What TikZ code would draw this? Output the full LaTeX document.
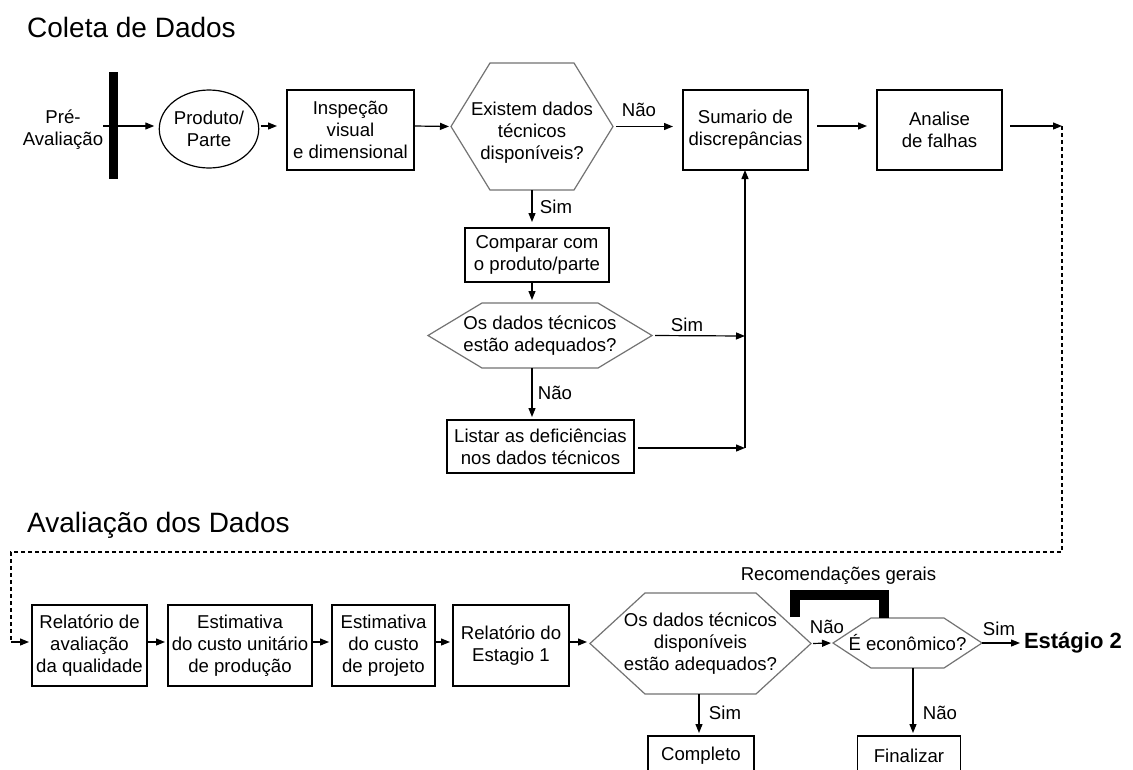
\documentclass[tikz,border=0pt]{standalone}
\usepackage{fontspec}
\setmainfont{Liberation Sans}
\usetikzlibrary{arrows.meta,shapes.geometric}
\tikzset{
  base/.style={font=\fontsize{18.6}{22}\selectfont, align=center, inner sep=0pt, outer sep=0pt},
  box/.style={base, draw, line width=1.2pt},
  hexline/.style={draw=black!55, line width=1.2pt, line join=miter},
  arr/.style={line width=1.2pt, -{Triangle[length=9pt,width=7pt]}},
  dsh/.style={line width=1.1pt, dash pattern=on 4pt off 3pt},
  lbl/.style={base},
  title/.style={font=\fontsize{28}{32}\selectfont, inner sep=0pt, anchor=west},
}
\newcommand{\hexdraw}[2]{\draw[hexline] (#1.west) -- ([xshift=#2]#1.north west) -- ([xshift=-#2]#1.north east) -- (#1.east) -- ([xshift=-#2]#1.south east) -- ([xshift=#2]#1.south west) -- cycle;}
\begin{document}
\begin{tikzpicture}[x=1pt,y=-1pt]
\useasboundingbox (0,0) rectangle (1133,769);
\clip (0,0) rectangle (1133,769);
\fill[white] (0,0) rectangle (1133,769);

% titles
\node[title] (t1) at (27,27) {Coleta de Dados};
\node[title] (t2) at (27,525) {Avaliação dos Dados};

% ---------- top row ----------
\coordinate (ra) at (0,126);
\node[base] (pre) at (63,130) {Pré-\\Avaliação};
\node[fill=black, minimum width=9pt, minimum height=107pt, inner sep=0pt, outer sep=0pt] (bar) at (113.5,125.5) {};
\node[base, draw, ellipse, line width=1.2pt, minimum width=98pt, minimum height=78pt] (prod) at (209,129) {Produto/\\Parte};
\node[box, minimum width=127pt, minimum height=80pt] (insp) at (350.5,130) {Inspeção\\visual\\e dimensional};
\node[base, minimum width=162pt, minimum height=127pt,
      label={[base,yshift=-6pt]center:{Existem dados\\técnicos\\disponíveis?}}] (hex1) at (532,126.5) {};
\hexdraw{hex1}{39pt}
\node[box, minimum width=125pt, minimum height=80pt] (sum) at (745.5,130) {Sumario de\\discrepâncias};
\node[box, minimum width=125pt, minimum height=80pt] (anl) at (939.5,130) {Analise\\de falhas};
\coordinate (c1) at (1062,126);
\coordinate (c2) at (1062,552);
\coordinate (c3) at (11,552);
\coordinate (c4) at (11,642);

\draw[arr, shorten >=5pt] (pre.east |- ra) -- (prod.west |- ra);
\draw[arr, shorten <=2pt, shorten >=10pt] (prod.east |- ra) -- (insp.west |- ra);
\draw[arr, shorten >=2pt] (insp.east |- ra) -- (hex1.west);
\draw[arr, shorten <=3pt, shorten >=10pt] (hex1.east) -- (sum.west |- hex1.east);
\node[lbl] (lnao1) at (639,110) {Não};
\draw[arr, shorten <=9pt, shorten >=10pt] (sum.east |- ra) -- (anl.west |- ra);
\draw[arr, shorten <=8pt] (anl.east |- ra) -- (c1);

% ---------- middle column ----------
\coordinate (colA) at (532,0);
\node[box, minimum width=144pt, minimum height=54pt] (comp) at (537,255) {Comparar com\\o produto/parte};
\node[base, minimum width=224pt, minimum height=65pt] (hex2) at (540,335.5) {Os dados técnicos\\estão adequados?};
\hexdraw{hex2}{54pt}
\node[box, minimum width=187pt, minimum height=53pt] (listar) at (540.5,446.5) {Listar as deficiências\\nos dados técnicos};
\coordinate (j1) at (745,336);
\coordinate (j2) at (745,448);

\draw[arr, shorten >=6pt] (hex1.south -| colA) -- (comp.north -| colA);
\node[lbl] (lsim1) at (556,207) {Sim};
\draw[arr, shorten >=3pt] (comp.south -| colA) -- (hex2.north -| colA);
\draw[arr, shorten <=3pt] (hex2.east) -- (j1);
\node[lbl] (lsim2) at (687,325) {Sim};
\draw[arr, shorten >=3pt] (hex2.south -| colA) -- (listar.north -| colA);
\node[lbl] (lnao2) at (555,393) {Não};
\draw[arr, shorten <=4pt] (listar.east |- j2) -- (j2);
\draw[arr] (j2) -- (j2 |- sum.south);

% ---------- bottom row ----------
\coordinate (rb) at (0,642);
\node[box, minimum width=115pt, minimum height=81pt] (rel) at (89.5,645.5) {Relatório de\\avaliação\\da qualidade};
\node[box, minimum width=144pt, minimum height=81pt] (est1) at (240,645.5) {Estimativa\\do custo unitário\\de produção};
\node[box, minimum width=103pt, minimum height=81pt] (est2) at (383.5,645.5) {Estimativa\\do custo\\de projeto};
\node[box, minimum width=116pt, minimum height=81pt] (rel1) at (511,645.5) {Relatório do\\Estagio 1};
\node[base, minimum width=221pt, minimum height=101pt] (hex3) at (700.5,643.5) {Os dados técnicos\\disponíveis\\estão adequados?};
\hexdraw{hex3}{55pt}
\node[base, minimum width=149pt, minimum height=50pt] (hex4) at (907.5,643) {É econômico?};
\hexdraw{hex4}{38pt}
\node[base, font=\bfseries\fontsize{22}{26}\selectfont, anchor=west] (stg) at (1024,643) {Estágio 2};
\node[box, minimum width=106pt, minimum height=40pt] (compl) at (701,756) {Completo};
\node[box, minimum width=103pt, minimum height=40pt] (fin) at (909,756) {Finalizar};
\coordinate (colB) at (699,0);
\coordinate (colC) at (913,0);

\draw[dsh] (c1) -- (c2) -- (c3) -- (c4);
\draw[arr, shorten >=3pt] (c4) -- (rel.west |- c4);
\draw[arr, shorten >=3pt] (rel.east |- rb) -- (est1.west |- rb);
\draw[arr, shorten >=3pt] (est1.east |- rb) -- (est2.west |- rb);
\draw[arr, shorten >=3pt] (est2.east |- rb) -- (rel1.west |- rb);
\draw[arr, shorten >=3pt] (rel1.east |- rb) -- (hex3.west |- rb);
\draw[arr, shorten <=2pt, shorten >=2pt] (hex3.east) -- (hex4.west);
\node[lbl] (lnao3) at (827,627) {Não};
\draw[arr, shorten >=4pt] (hex4.east) -- (stg.west);
\node[lbl] (lsim3) at (999,629) {Sim};
\draw[arr, shorten >=3pt] (hex3.south -| colB) -- (compl.north -| colB);
\node[lbl] (lsim4) at (725,713) {Sim};
\draw[arr, shorten >=3pt] (hex4.south -| colC) -- (fin.north -| colC);
\node[lbl] (lnao4) at (940,713) {Não};

% bracket
\coordinate (bk1) at (795,617);
\coordinate (bk2) at (795,595);
\coordinate (bk3) at (884,595);
\coordinate (bk4) at (884,618);
\draw[line width=10pt, line join=miter] (bk1) -- (bk2) -- (bk3) -- (bk4);
\node[lbl] (rec) at (838.5,576) {Recomendações gerais};
\end{tikzpicture}
\end{document}
